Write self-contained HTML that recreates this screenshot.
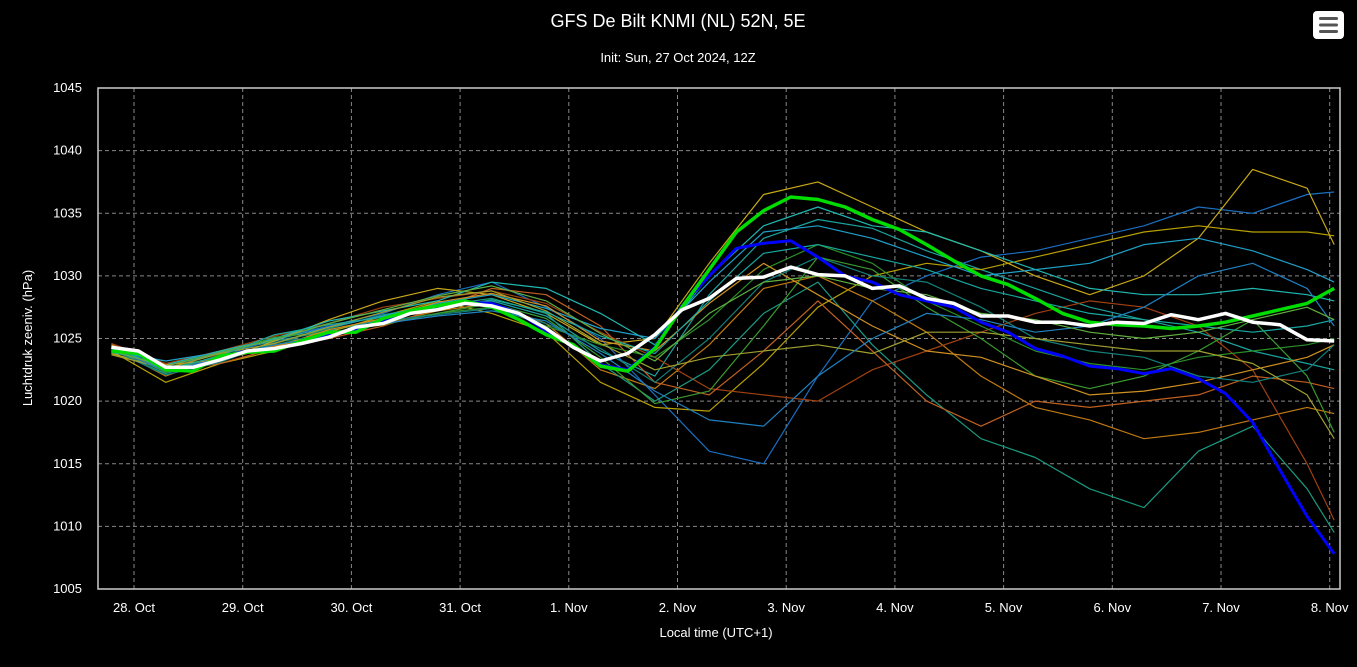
<!DOCTYPE html>
<html><head><meta charset="utf-8"><style>
body{margin:0;background:#000;width:1357px;height:662px;overflow:hidden;font-family:"Liberation Sans",sans-serif}
svg text{font-family:"Liberation Sans",sans-serif;fill:#fff}
</style></head><body>
<svg id="chart" width="1357" height="662">
<text x="678" y="27" font-size="18" text-anchor="middle">GFS De Bilt KNMI (NL) 52N, 5E</text>
<text x="678" y="62" font-size="13" text-anchor="middle">Init: Sun, 27 Oct 2024, 12Z</text>
<g>
<rect x="1313" y="11" width="31" height="28" rx="4" fill="#fff"/>
<rect x="1319" y="17" width="19" height="3" rx="1.5" fill="#555"/>
<rect x="1319" y="23.5" width="19" height="3" rx="1.5" fill="#555"/>
<rect x="1319" y="30" width="19" height="3" rx="1.5" fill="#555"/>
</g>
<g id="grid"></g><g id="members"></g><g id="main"></g>
<rect x="98" y="88" width="1242" height="501" fill="none" stroke="#ccc" stroke-width="1.5"/>
<text transform="translate(32,338) rotate(-90)" font-size="13" text-anchor="middle">Luchtdruk zeeniv. (hPa)</text>
<text x="716" y="637" font-size="13" text-anchor="middle">Local time (UTC+1)</text>
</svg>
<script>
const yTicks=[1005,1010,1015,1020,1025,1030,1035,1040,1045];
const xTicks=["28. Oct","29. Oct","30. Oct","31. Oct","1. Nov","2. Nov","3. Nov","4. Nov","5. Nov","6. Nov","7. Nov","8. Nov"];
const meanSeries=[24.3,24.0,22.7,22.7,23.3,24.0,24.2,24.6,25.1,25.9,26.2,27.0,27.3,27.8,27.6,27.0,25.8,24.3,23.2,23.8,25.3,27.3,28.2,29.8,29.9,30.7,30.1,30.0,29.0,29.2,28.2,27.8,26.8,26.8,26.3,26.3,26.0,26.3,26.2,26.9,26.5,27.0,26.3,26.1,24.9,24.8];
const controlSeries=[24.0,23.8,22.5,22.4,23.6,23.9,24.0,24.8,25.5,25.5,26.6,27.2,27.6,28.0,27.5,26.5,25.3,24.5,22.8,22.4,24.2,27.5,30.5,33.5,35.2,36.3,36.1,35.5,34.5,33.7,32.5,31.2,30.0,29.3,28.2,27.0,26.3,26.1,26.0,25.8,26.0,26.3,26.8,27.3,27.8,29.0];
const operSeries=[24.2,23.9,22.6,22.5,23.5,24.0,24.1,24.7,25.3,25.7,26.4,27.1,27.4,27.9,27.8,27.0,25.6,24.4,22.9,22.5,24.3,27.6,30.0,32.2,32.6,32.8,31.5,30.0,29.5,28.5,28.0,27.5,26.3,25.5,24.2,23.6,22.8,22.6,22.2,22.6,21.8,20.6,18.3,14.5,10.8,7.8];
const memberHours=[-5,7,19,31,43,55,67,79,91,103,115,127,139,151,163,175,187,199,211,223,235,247,259,265];
const m1=[24.2,22.8,23.8,24.8,25.6,26.5,27.5,28.0,26.8,24.0,22.0,28.5,33.0,34.5,33.8,32.0,30.5,29.0,27.5,26.5,25.5,24.0,23.0,22.5];
const m2=[24.5,22.5,23.5,25.0,26.0,27.0,28.5,29.5,27.5,25.0,20.5,16.0,15.0,22.0,28.0,30.0,31.5,32.0,33.0,34.0,35.5,35.0,36.5,36.7];
const m3=[24.0,21.5,23.0,24.0,25.5,26.8,28.0,27.0,25.5,21.5,19.5,19.2,23.0,27.5,30.0,31.0,30.5,31.5,32.5,33.5,34.0,33.5,33.5,33.2];
const m4=[24.3,22.0,23.6,24.4,25.2,26.2,27.2,27.8,26.2,22.5,21.0,24.5,29.0,30.0,28.0,25.5,22.0,19.5,18.5,17.0,17.5,18.5,19.5,19.0];
const m5=[23.8,22.6,23.2,24.8,26.5,28.0,29.0,28.5,27.0,24.5,25.0,31.0,36.5,37.5,35.5,33.5,32.0,30.0,28.5,30.0,33.0,38.5,37.0,32.5];
const m6=[24.6,23.0,24.0,25.2,26.2,27.5,28.2,28.8,27.8,25.5,23.5,21.0,20.5,20.0,22.5,24.0,25.5,27.0,28.0,27.5,26.0,22.5,15.0,10.5];
const m7=[24.1,22.2,23.4,24.6,25.8,26.9,27.6,28.2,27.0,23.0,20.0,22.5,27.0,29.5,24.5,20.5,17.0,15.5,13.0,11.5,16.0,18.0,13.0,9.5];
const m8=[24.4,22.4,23.0,24.2,25.0,26.0,27.4,29.0,28.5,26.0,21.5,20.5,24.0,28.0,24.0,20.0,18.0,20.0,19.5,20.0,20.5,22.0,21.5,21.0];
const m9=[23.9,22.9,24.0,25.0,26.4,27.2,28.0,29.5,29.0,27.0,24.5,30.0,34.0,35.5,34.0,33.5,32.0,30.5,29.0,28.5,28.5,29.0,28.5,28.0];
const m10=[24.2,22.7,23.5,24.5,25.4,26.3,27.0,27.5,26.0,24.5,23.5,26.5,30.5,32.5,31.0,28.0,26.0,24.0,23.0,22.5,23.5,24.0,24.5,25.0];
const m11=[24.0,23.2,23.9,24.9,25.9,26.8,27.8,28.5,27.4,25.8,25.0,29.5,33.5,34.0,33.0,31.5,30.0,30.5,31.0,32.5,33.0,32.0,30.5,29.5];
const m12=[24.3,22.3,23.7,25.1,25.5,26.1,27.0,27.8,26.6,23.5,19.8,20.8,26.0,31.5,30.5,27.5,25.0,22.0,21.0,22.0,24.0,26.5,22.0,17.5];
const m13=[24.5,22.9,23.3,24.3,25.7,26.6,27.9,28.6,27.6,24.8,24.0,27.8,31.0,28.5,26.0,24.0,23.5,22.0,20.5,20.8,21.5,22.5,23.5,24.5];
const m14=[24.1,22.1,23.1,24.7,25.3,26.4,26.9,27.4,26.2,24.2,21.5,25.0,29.5,31.5,30.0,29.5,27.5,25.0,24.0,23.5,22.0,21.5,22.5,24.5];
const m15=[23.7,22.6,23.8,24.6,25.9,27.1,28.3,28.8,27.2,24.6,22.5,23.5,24.0,24.5,23.8,25.5,25.5,25.0,24.5,24.0,24.0,23.0,20.5,17.0];
const m16=[24.4,22.5,23.6,25.3,26.1,26.7,27.3,28.1,27.1,25.2,23.8,28.0,31.8,32.5,31.5,30.5,29.0,28.0,27.0,26.5,26.0,25.5,26.0,26.5];
const m17=[24.2,22.4,23.4,24.5,25.2,26.2,26.8,27.2,26.4,23.8,20.8,18.5,18.0,22.0,25.0,27.0,26.5,25.5,26.0,27.5,30.0,31.0,29.0,26.0];
const m18=[24.0,22.8,23.9,24.9,26.2,27.3,28.4,29.2,28.0,25.4,23.2,27.0,29.5,30.0,29.0,28.5,27.0,26.5,25.5,25.0,25.5,26.5,27.5,26.5];
const memberValues=[m1,m2,m3,m4,m5,m6,m7,m8,m9,m10,m11,m12,m13,m14,m15,m16,m17,m18];
const memberColors=["#1ba3a0","#1a6fc0","#b8a000","#c07a10","#c8a818","#a04010","#1a9a80","#c06020","#20b8b0","#2a8f2a","#1fa0c8","#3a9a30","#d09020","#14807a","#a0a030","#18a8a0","#2080c0","#60b040"];
const NS="http://www.w3.org/2000/svg";
const X0=134,PXD=108.7,Y0=589,PXH=(589-88)/40;
function xh(h){return X0+h/24*PXD;}
function yv(v){return Y0-(v-1005)*PXH;}
function full(v){return v<100?1000+v:v;}
const grid=document.getElementById('grid');
yTicks.forEach(t=>{
 const y=yv(t);
 if(t>1005&&t<1045){const l=document.createElementNS(NS,'line');
 l.setAttribute('x1',98);l.setAttribute('x2',1340);l.setAttribute('y1',y);l.setAttribute('y2',y);
 l.setAttribute('stroke','#888');l.setAttribute('stroke-dasharray','4,3');
 
 
 grid.appendChild(l);}
 const tx=document.createElementNS(NS,'text');
 tx.setAttribute('x',82);tx.setAttribute('y',y+4);tx.setAttribute('text-anchor','end');tx.setAttribute('font-size','13');
 tx.textContent=t;
 
 
 grid.appendChild(tx);
});
xTicks.forEach((t,i)=>{
 const x=xh(i*24);
 const l=document.createElementNS(NS,'line');
 l.setAttribute('x1',x);l.setAttribute('x2',x);l.setAttribute('y1',88);l.setAttribute('y2',589);
 l.setAttribute('stroke','#888');l.setAttribute('stroke-dasharray','4,3');
 
 
 grid.appendChild(l);
 const tx=document.createElementNS(NS,'text');
 tx.setAttribute('x',x);tx.setAttribute('y',612);tx.setAttribute('text-anchor','middle');tx.setAttribute('font-size','13');
 tx.textContent=t;
 
 
 grid.appendChild(tx);
});
function line(g,hours,vals,color,w,name){
 const p=document.createElementNS(NS,'polyline');
 p.setAttribute('points',vals.map((v,i)=>xh(hours[i]).toFixed(1)+','+yv(full(v)).toFixed(1)).join(' '));
 p.setAttribute('fill','none');p.setAttribute('stroke',color);p.setAttribute('stroke-width',w);p.setAttribute('stroke-linejoin','round');
 
 
 g.appendChild(p);
}
const mg=document.getElementById('members');
memberValues.forEach((m,i)=>line(mg,memberHours,m,memberColors[i],1.2,'ensemble-member-line'));
const mainHours=meanSeries.map((_,i)=>-5+6*i);
const mn=document.getElementById('main');
line(mn,mainHours,operSeries,'#0000ff',3,'operational-run-line');
line(mn,mainHours,controlSeries,'#00dd00',3.5,'control-run-line');
line(mn,mainHours,meanSeries,'#ffffff',3.5,'ensemble-mean-line');
</script>
</body></html>
